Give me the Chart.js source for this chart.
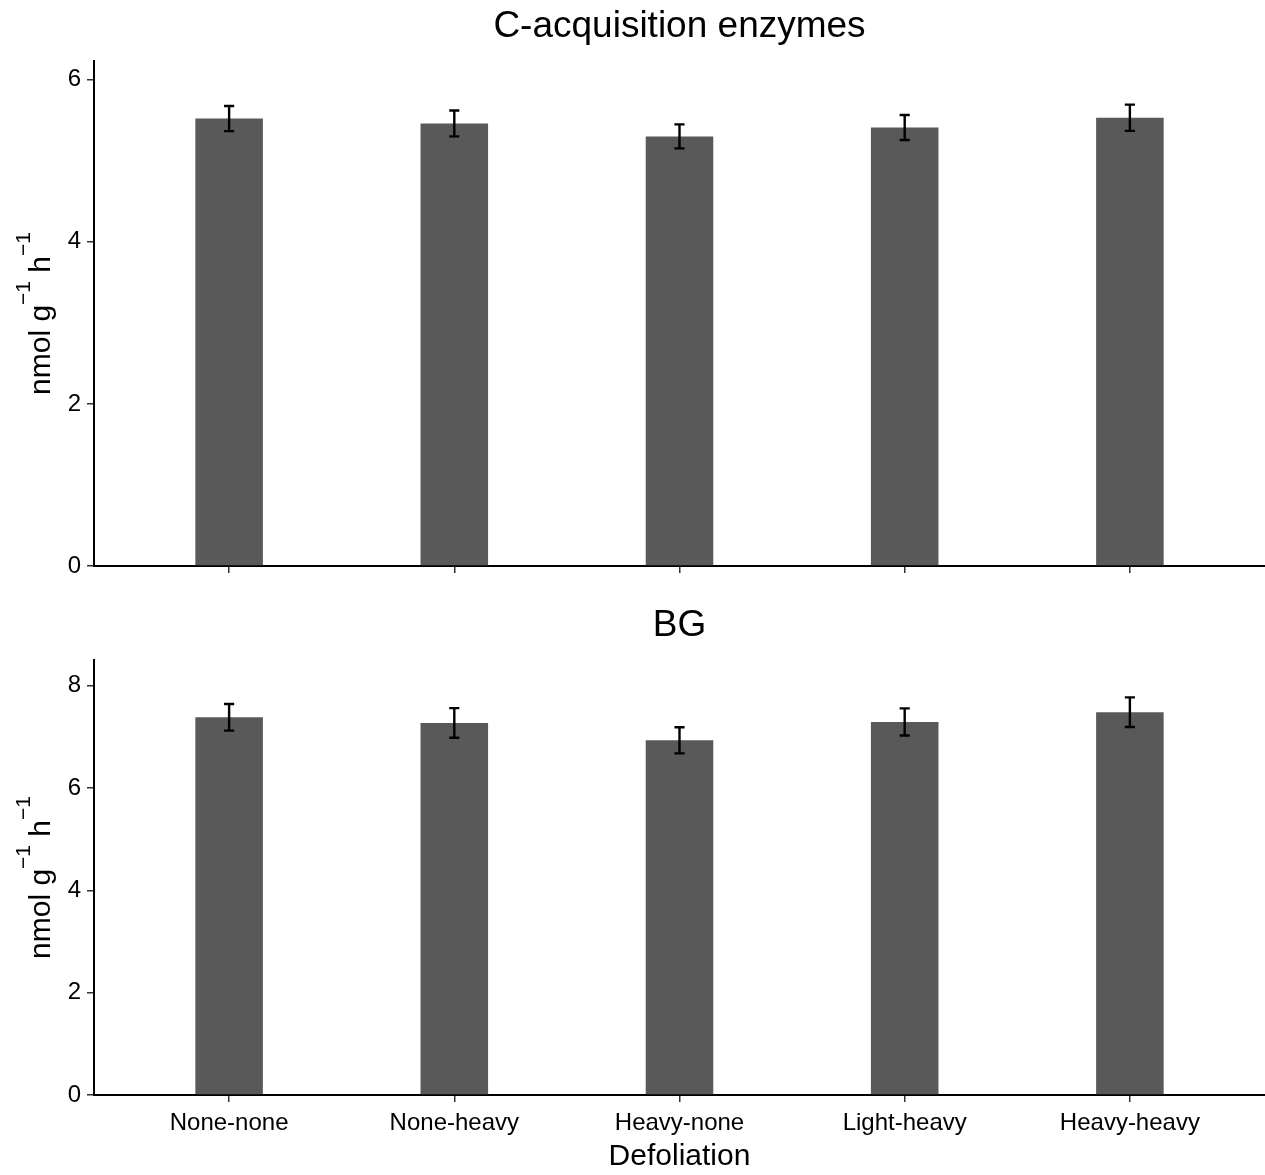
<!DOCTYPE html>
<html>
<head>
<meta charset="utf-8">
<script src="https://cdn.jsdelivr.net/npm/chart.js@4.4.1/dist/chart.umd.min.js"></script>
<style>
  html, body { margin: 0; padding: 0; background: #ffffff; }
  #panelTop { position: absolute; left: 0; top: 0; }
  #panelBottom { position: absolute; left: 0; top: 600px; }
</style>
</head>
<body>
<canvas id="panelTop" width="1265" height="600"></canvas>
<canvas id="panelBottom" width="1265" height="575"></canvas>
<script>
// Treatments along the x axis
const categories = ['None-none', 'None-heavy', 'Heavy-none', 'Light-heavy', 'Heavy-heavy'];

// C-acquisition enzymes: mean and standard error
const cMeans  = [5.52, 5.46, 5.30, 5.41, 5.53];
const cErrors = [0.155, 0.160, 0.148, 0.154, 0.162];

// BG: mean and standard error
const bgMeans  = [7.38, 7.27, 6.93, 7.29, 7.48];
const bgErrors = [0.26, 0.29, 0.255, 0.265, 0.29];

// Y tick values for each panel
const cTicks  = [0, 2, 4, 6];
const bgTicks = [0, 2, 4, 6, 8];

const FONT = '"Liberation Sans", Arial, Helvetica, sans-serif';

// Error bars drawn through the chart's own scales
const errorBarPlugin = {
  id: 'errorBars',
  afterDatasetsDraw(chart, args, opts) {
    const { ctx } = chart;
    const xs = chart.scales.x, ys = chart.scales.y;
    const half = (xs.getPixelForValue(1 + opts.capWidth / 2) - xs.getPixelForValue(1));
    ctx.save();
    ctx.strokeStyle = '#000000';
    ctx.lineWidth = 2.4;
    opts.means.forEach((m, i) => {
      const x = xs.getPixelForValue(i + 1);
      const yHi = ys.getPixelForValue(m + opts.errors[i]);
      const yLo = ys.getPixelForValue(m - opts.errors[i]);
      ctx.beginPath();
      ctx.moveTo(x, yHi); ctx.lineTo(x, yLo);
      ctx.moveTo(x - half, yHi); ctx.lineTo(x + half, yHi);
      ctx.moveTo(x - half, yLo); ctx.lineTo(x + half, yLo);
      ctx.stroke();
    });
    ctx.restore();
  }
};

// Panel title centred over the plotting area
const panelTitlePlugin = {
  id: 'panelTitle',
  afterDraw(chart, args, opts) {
    const { ctx, chartArea } = chart;
    ctx.save();
    ctx.font = '37px ' + FONT;
    ctx.fillStyle = '#000000';
    ctx.textAlign = 'center';
    ctx.textBaseline = 'alphabetic';
    ctx.fillText(opts.text, (chartArea.left + chartArea.right) / 2, chartArea.top - 24);
    ctx.restore();
  }
};

// Rotated y-axis title with superscript exponents: nmol g^-1 h^-1
const unitTitlePlugin = {
  id: 'unitTitle',
  afterDraw(chart) {
    const { ctx, chartArea } = chart;
    const parts = [
      { t: 'nmol g', size: 30, rise: 0 },
      { t: '\u22121', size: 21, rise: 20 },
      { t: ' h', size: 30, rise: 0 },
      { t: '\u22121', size: 21, rise: 20 }
    ];
    ctx.save();
    let total = 0;
    parts.forEach(p => {
      ctx.font = p.size + 'px ' + FONT;
      p.w = ctx.measureText(p.t).width;
      total += p.w;
    });
    ctx.translate(50, (chartArea.top + chartArea.bottom) / 2);
    ctx.rotate(-Math.PI / 2);
    ctx.fillStyle = '#000000';
    ctx.textAlign = 'left';
    ctx.textBaseline = 'alphabetic';
    let x = -total / 2;
    parts.forEach(p => {
      ctx.font = p.size + 'px ' + FONT;
      ctx.fillText(p.t, x, -p.rise);
      x += p.w;
    });
    ctx.restore();
  }
};

function makePanel(canvasId, title, means, errors, yTicks, yMax, showXLabels, topPad, xAxisHeight) {
  return new Chart(document.getElementById(canvasId), {
    type: 'bar',
    data: {
      datasets: [{
        data: means.map((m, i) => ({ x: i + 1, y: m })),
        backgroundColor: '#595959',
        borderWidth: 0,
        barPercentage: 0.3,
        categoryPercentage: 1.0
      }]
    },
    options: {
      responsive: false,
      animation: false,
      devicePixelRatio: 1,
      layout: { padding: { top: topPad, left: 0, right: 0, bottom: 0 } },
      plugins: {
        legend: { display: false },
        tooltip: { enabled: false },
        title: { display: false },
        errorBars: { means: means, errors: errors, capWidth: 0.045 },
        panelTitle: { text: title }
      },
      scales: {
        x: {
          type: 'linear',
          min: 0.4,
          max: 5.6,
          offset: false,
          afterBuildTicks: s => { s.ticks = categories.map((_, i) => ({ value: i + 1 })); },
          afterFit: s => { s.height = xAxisHeight; },
          ticks: {
            display: showXLabels,
            autoSkip: false,
            maxRotation: 0,
            minRotation: 0,
            padding: 7,
            color: '#000000',
            font: { family: FONT, size: 24 },
            callback: v => categories[Math.round(v) - 1]
          },
          grid: { offset: false, drawOnChartArea: false, drawTicks: true, tickLength: 7, color: '#333333', lineWidth: 1.5 },
          border: { display: true, color: '#000000', width: 2 },
          title: {
            display: showXLabels,
            text: 'Defoliation',
            color: '#000000',
            font: { family: FONT, size: 30 },
            padding: 0
          }
        },
        y: {
          min: 0,
          max: yMax,
          afterBuildTicks: s => { s.ticks = yTicks.map(v => ({ value: v })); },
          afterFit: s => { s.width = 94; },
          ticks: {
            padding: 6,
            color: '#000000',
            font: { family: FONT, size: 24 }
          },
          grid: { drawOnChartArea: false, drawTicks: true, tickLength: 7, color: '#333333', lineWidth: 1.5 },
          border: { display: true, color: '#000000', width: 2 }
        }
      }
    },
    plugins: [errorBarPlugin, panelTitlePlugin, unitTitlePlugin]
  });
}

makePanel('panelTop', 'C-acquisition enzymes', cMeans, cErrors, cTicks, 6.23, false, 61, 34);
makePanel('panelBottom', 'BG', bgMeans, bgErrors, bgTicks, 8.5, true, 60, 80);
</script>
</body>
</html>
